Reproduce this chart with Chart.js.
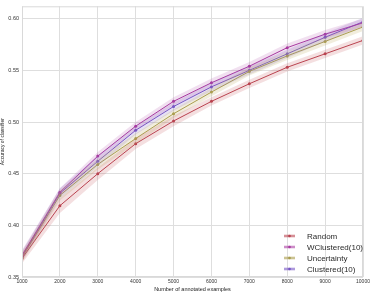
<!DOCTYPE html>
<html>
<head>
<meta charset="utf-8">
<script src="https://cdn.jsdelivr.net/npm/chart.js@4"></script>
<style>
  html, body { margin: 0; padding: 0; background: #fff; }
  #wrap { width: 374px; height: 293px; }
</style>
</head>
<body>
<div id="wrap"><canvas id="accChart"></canvas></div>
<script>
// examples annotated
const examples = [1000, 2000, 3000, 4000, 5000, 6000, 7000, 8000, 9000, 10000];
const yTicks = [0.35, 0.40, 0.45, 0.50, 0.55, 0.60];

const random      = [0.368, 0.419, 0.450, 0.479, 0.501, 0.520, 0.537, 0.553, 0.566, 0.579];
const wclustered  = [0.371, 0.432, 0.467, 0.496, 0.520, 0.538, 0.554, 0.572, 0.585, 0.596];
const uncertainty = [0.369, 0.429, 0.459, 0.484, 0.508, 0.529, 0.549, 0.564, 0.578, 0.592];
const clustered   = [0.370, 0.431, 0.462, 0.492, 0.515, 0.534, 0.550, 0.566, 0.582, 0.597];

// half width of the shaded std band
const randomStd      = [0.005, 0.007, 0.006, 0.005, 0.005, 0.004, 0.004, 0.004, 0.004, 0.004];
const wclusteredStd  = [0.005, 0.004, 0.004, 0.004, 0.004, 0.004, 0.004, 0.004, 0.004, 0.004];
const uncertaintyStd = [0.005, 0.005, 0.005, 0.005, 0.004, 0.004, 0.004, 0.004, 0.004, 0.004];
const clusteredStd   = [0.005, 0.005, 0.005, 0.004, 0.004, 0.004, 0.004, 0.004, 0.004, 0.004];

const series = [
  { label: 'Random',         values: random,      std: randomStd,      color: '#b8414f', band: 'rgba(196,78,82,0.18)' },
  { label: 'WClustered(10)', values: wclustered,  std: wclusteredStd,  color: '#a8389f', band: 'rgba(170,60,160,0.16)' },
  { label: 'Uncertainty',    values: uncertainty, std: uncertaintyStd, color: '#a69a4a', band: 'rgba(190,175,100,0.22)' },
  { label: 'Clustered(10)',  values: clustered,   std: clusteredStd,   color: '#7453c4', band: 'rgba(129,100,200,0.20)' }
];

const pts = (arr) => arr.map((v, i) => ({ x: examples[i], y: v }));

const datasets = [];
series.forEach(s => {
  datasets.push({
    label: s.label + ' upper', band: true,
    data: pts(s.values.map((v, i) => v + s.std[i])),
    borderWidth: 0, pointRadius: 0, backgroundColor: s.band, fill: '+1'
  });
  datasets.push({
    label: s.label + ' lower', band: true,
    data: pts(s.values.map((v, i) => v - s.std[i])),
    borderWidth: 0, pointRadius: 0, backgroundColor: s.band, fill: false
  });
});
series.forEach(s => {
  datasets.push({
    label: s.label,
    data: pts(s.values),
    borderColor: s.color, backgroundColor: s.color,
    borderWidth: 1, pointRadius: 1.5, pointBorderWidth: 0, fill: false
  });
});

const frameAndLegend = {
  id: 'frameAndLegend',
  afterDraw(chart) {
    const { ctx, chartArea: a } = chart;
    ctx.save();
    ctx.strokeStyle = '#d9d9d9';
    ctx.lineWidth = 1;
    ctx.strokeRect(a.left + 0.5, a.top + 0.5, a.right - a.left - 1, a.bottom - a.top - 1);

    ctx.font = '8px "Liberation Sans", Arial, sans-serif';
    ctx.textBaseline = 'middle';
    series.forEach((s, i) => {
      const y = 236 + i * 11;
      ctx.fillStyle = s.band;
      ctx.fillRect(284, y - 2, 11, 4);
      ctx.strokeStyle = s.color;
      ctx.beginPath(); ctx.moveTo(284, y); ctx.lineTo(295, y); ctx.stroke();
      ctx.fillStyle = s.color;
      ctx.beginPath(); ctx.arc(289.5, y, 1.3, 0, Math.PI * 2); ctx.fill();
      ctx.fillStyle = '#2a2a2a';
      ctx.fillText(s.label, 307, y + 0.5);
    });
    ctx.restore();
  }
};

const ctx = document.getElementById('accChart').getContext('2d');
const accChart = new Chart(ctx, {
  type: 'line',
  data: { datasets: datasets },
  plugins: [frameAndLegend],
  options: {
    responsive: true,
    maintainAspectRatio: false,
    animation: false,
    layout: { padding: { top: 4, right: 11, left: 0, bottom: 0 } },
    plugins: { legend: { display: false }, tooltip: { enabled: false } },
    elements: { line: { tension: 0 } },
    scales: {
      x: {
        type: 'linear', min: 1000, max: 10000,
        afterBuildTicks: (sc) => { sc.ticks = examples.map(v => ({ value: v })); },
        afterFit: (sc) => { sc.height = 16; },
        grid: { color: '#dedede', drawTicks: false },
        border: { display: false },
        ticks: { font: { size: 5, family: '"Liberation Sans", Arial' }, color: '#333', padding: 2, maxRotation: 0,
                 callback: (v) => String(v) },
        title: { display: true, text: 'Number of annotated examples', font: { size: 5.5, family: '"Liberation Sans", Arial' },
                 color: '#222', padding: { top: 0, bottom: 0 } }
      },
      y: {
        type: 'linear', min: 0.35, max: 0.612,
        afterBuildTicks: (sc) => { sc.ticks = yTicks.map(v => ({ value: v })); },
        afterFit: (sc) => { sc.width = 22; },
        grid: { color: '#dedede', drawTicks: false },
        border: { display: false },
        ticks: { font: { size: 5.5, family: '"Liberation Sans", Arial' }, color: '#333', padding: 3,
                 callback: (v) => v.toFixed(2) },
        title: { display: true, text: 'Accuracy of classifier', font: { size: 5, family: '"Liberation Sans", Arial' },
                 color: '#222', padding: { top: 0, bottom: 0 } }
      }
    }
  }
});
</script>
</body>
</html>
